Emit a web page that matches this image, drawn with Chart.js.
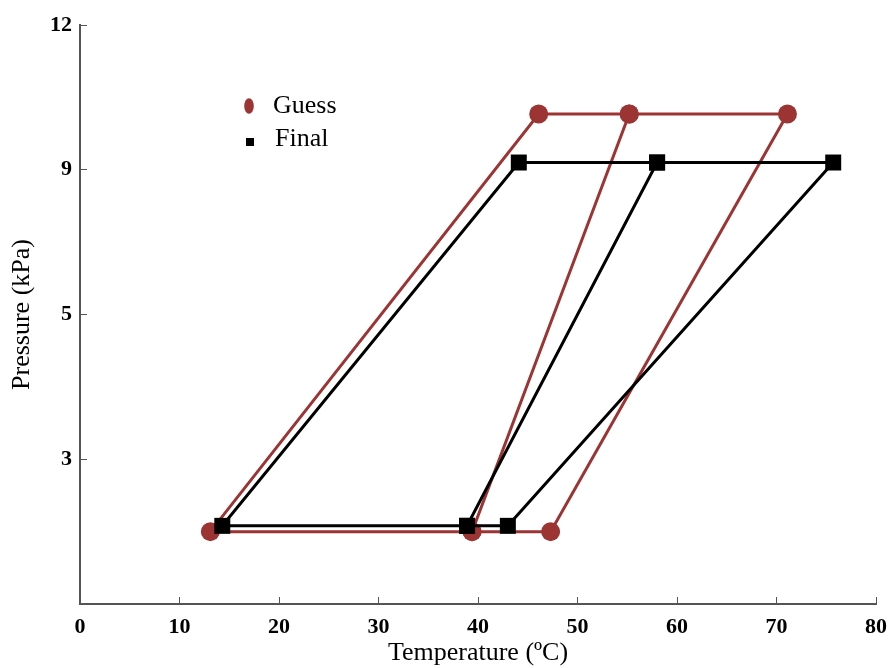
<!DOCTYPE html>
<html>
<head>
<meta charset="utf-8">
<script src="https://cdn.jsdelivr.net/npm/chart.js@4/dist/chart.umd.min.js"></script>
<style>
  html, body { margin: 0; padding: 0; background: #fff; }
  #wrap { width: 890px; height: 668px; }
</style>
</head>
<body>
<div id="wrap"><canvas id="c" width="890" height="668"></canvas></div>
<script>
// ---- Data ----
// Temperatures (ºC) of the three low-pressure and three high-pressure states
const guessLowT  = [13.1, 39.4, 47.3];
const guessHighT = [46.1, 55.2, 71.1];
const finalLowT  = [14.3, 38.9, 43.0];
const finalHighT = [44.1, 58.0, 75.7];
// Pressure levels, in the position units of the (non-uniform) pressure axis
const guessLowP  = 0.50;
const guessHighP = 3.385;
const finalLowP  = 0.54;
const finalHighP = 3.05;
// Pressure axis tick labels at positions 0..4
const pressureTickLabels = ['', '3', '5', '9', '12'];
// Temperature axis range
const tempTicksMin = 0, tempTicksMax = 80, tempStep = 10;

const seriesNames = ['Guess', 'Final'];
const colGuess = '#9c3434';
const colFinal = '#000000';

// Trace each cycle as one continuous path covering all 7 edges:
// B2 B1 T1 T2 B2 B3 T3 T2
function cyclePath(lowT, highT, lowP, highP) {
  const B = lowT.map(t => ({x: t, y: lowP}));
  const T = highT.map(t => ({x: t, y: highP}));
  return [B[1], B[0], T[0], T[1], B[1], B[2], T[2], T[1]];
}

const FONT = '"Liberation Serif", "Times New Roman", Times, serif';

const legendPlugin = {
  id: 'insideLegend',
  afterDatasetsDraw(chart) {
    const ctx = chart.ctx;
    ctx.save();
    ctx.fillStyle = colGuess;
    ctx.beginPath();
    ctx.ellipse(249, 106, 4.8, 7.8, 0, 0, Math.PI * 2);
    ctx.fill();
    ctx.fillStyle = colFinal;
    ctx.fillRect(246, 138, 8, 8);
    ctx.fillStyle = '#000';
    ctx.font = '26px ' + FONT;
    ctx.textAlign = 'left';
    ctx.textBaseline = 'alphabetic';
    ctx.fillText(seriesNames[0], 273, 113);
    ctx.fillText(seriesNames[1], 275, 146);
    ctx.restore();
  }
};

new Chart(document.getElementById('c'), {
  type: 'line',
  data: {
    datasets: [
      {
        label: seriesNames[0],
        data: cyclePath(guessLowT, guessHighT, guessLowP, guessHighP),
        borderColor: colGuess,
        backgroundColor: colGuess,
        borderWidth: 3,
        pointStyle: 'circle',
        pointRadius: 9.5,
        pointBorderWidth: 0,
        fill: false,
        tension: 0,
        order: 2
      },
      {
        label: seriesNames[1],
        data: cyclePath(finalLowT, finalHighT, finalLowP, finalHighP),
        borderColor: colFinal,
        backgroundColor: colFinal,
        borderWidth: 3,
        pointStyle: 'rect',
        pointRadius: 11.3,
        pointBorderWidth: 0,
        fill: false,
        tension: 0,
        order: 1
      }
    ]
  },
  options: {
    responsive: false,
    devicePixelRatio: 1,
    animation: false,
    events: [],
    layout: { padding: { top: 25, right: 14, bottom: 0, left: 0 } },
    plugins: {
      legend: { display: false },
      tooltip: { enabled: false }
    },
    scales: {
      x: {
        type: 'linear',
        min: tempTicksMin,
        max: tempTicksMax,
        afterFit(s) { s.height = 64; s.paddingLeft = 0; s.paddingRight = 0; },
        ticks: {
          stepSize: tempStep,
          autoSkip: false,
          maxRotation: 0,
          padding: 19,
          color: '#000',
          font: { family: FONT, size: 22, weight: 'bold', lineHeight: 1 }
        },
        grid: { drawOnChartArea: false, drawTicks: true, tickLength: -7, color: '#555', lineWidth: 1 },
        border: { display: true, color: '#555', width: 2 },
        title: {
          display: true,
          text: 'Temperature (ºC)',
          color: '#000',
          font: { family: FONT, size: 26, lineHeight: 1 },
          padding: { top: 0, bottom: 2 }
        }
      },
      y: {
        type: 'linear',
        min: 0,
        max: 4,
        afterFit(s) { s.width = 80; s.paddingTop = 0; s.paddingBottom = 0; },
        ticks: {
          stepSize: 1,
          autoSkip: false,
          padding: 15,
          color: '#000',
          font: { family: FONT, size: 22, weight: 'bold', lineHeight: 1 },
          callback: (v) => pressureTickLabels[Math.round(v)] ?? ''
        },
        grid: { drawOnChartArea: false, drawTicks: true, tickLength: -7, color: '#555', lineWidth: 1 },
        border: { display: true, color: '#555', width: 2 },
        title: {
          display: true,
          text: 'Pressure (kPa)',
          color: '#000',
          font: { family: FONT, size: 26, lineHeight: 1 },
          padding: { top: 9, bottom: 0 }
        }
      }
    }
  },
  plugins: [legendPlugin]
});
</script>
</body>
</html>
